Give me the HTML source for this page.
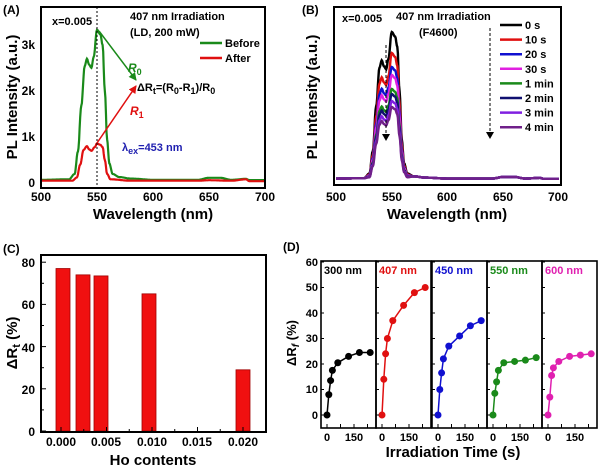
<!DOCTYPE html>
<html><head><meta charset="utf-8">
<style>
body{margin:0;background:#fff;}
svg{display:block;font-family:"Liberation Sans",Arial,sans-serif;font-weight:bold;}
</style></head><body>
<svg id="s" width="600" height="467" viewBox="0 0 600 467" xmlns="http://www.w3.org/2000/svg">
<defs>
<marker id="ag" markerWidth="8" markerHeight="8" refX="7" refY="4" orient="auto" markerUnits="userSpaceOnUse"><path d="M0,0 L8,4 L0,8z" fill="#1a8a1a"/></marker>
<marker id="ar" markerWidth="8" markerHeight="8" refX="7" refY="4" orient="auto" markerUnits="userSpaceOnUse"><path d="M0,0 L8,4 L0,8z" fill="#e01010"/></marker>
<marker id="ak" markerWidth="7" markerHeight="8" refX="6" refY="4" orient="auto" markerUnits="userSpaceOnUse"><path d="M0,0 L7,4 L0,8z" fill="#000"/></marker>
</defs>
<text x="3" y="14" font-size="12">(A)</text>
<g id="A"></g>
<rect x="41" y="7" width="224" height="181" fill="none" stroke="#000" stroke-width="2"/>
<line x1="97" y1="7" x2="97" y2="188" stroke="#000" stroke-dasharray="2,2" stroke-width="1"/>
<text x="52" y="25" font-size="11">x=0.005</text>
<text x="130" y="20" font-size="11">407 nm Irradiation</text>
<text x="130" y="36" font-size="11">(LD, 200 mW)</text>
<line x1="200" y1="43" x2="222" y2="43" stroke="#1a8a1a" stroke-width="2.5"/>
<text x="225" y="47" font-size="11">Before</text>
<line x1="200" y1="58" x2="222" y2="58" stroke="#e01010" stroke-width="2.5"/>
<text x="225" y="62" font-size="11">After</text>
<line x1="99" y1="31" x2="136" y2="80" stroke="#1a8a1a" stroke-width="1.5" marker-end="url(#ag)"/>
<line x1="97" y1="143" x2="136" y2="86" stroke="#e01010" stroke-width="1.5" marker-end="url(#ar)"/>
<text x="128" y="72" font-size="12" fill="#1a8a1a" font-style="italic">R<tspan font-size="9" dy="3" font-style="normal">0</tspan></text>
<text x="137" y="91" font-size="11">ΔR<tspan font-size="9" dy="3">t</tspan><tspan dy="-3">=(R</tspan><tspan font-size="9" dy="3">0</tspan><tspan dy="-3">-R</tspan><tspan font-size="9" dy="3">1</tspan><tspan dy="-3">)/R</tspan><tspan font-size="9" dy="3">0</tspan></text>
<text x="130" y="115" font-size="12" fill="#e01010" font-style="italic">R<tspan font-size="9" dy="3" font-style="normal">1</tspan></text>
<text x="122" y="151" font-size="11" fill="#2020b0">λ<tspan font-size="9" dy="3">ex</tspan><tspan dy="-3">=453 nm</tspan></text>
<g font-size="12" text-anchor="end"><text x="35" y="187">0</text><text x="35" y="141">1k</text><text x="35" y="95">2k</text><text x="35" y="49">3k</text></g>
<g font-size="12" text-anchor="middle"><text x="41" y="201">500</text><text x="97" y="201">550</text><text x="153" y="201">600</text><text x="209" y="201">650</text><text x="265" y="201">700</text></g>
<text x="153" y="219" font-size="15" text-anchor="middle">Wavelength (nm)</text>
<text transform="translate(17,97) rotate(-90)" font-size="15" text-anchor="middle">PL Intensity (a.u.)</text>

<text x="302" y="14" font-size="12">(B)</text>
<g id="B"></g>
<rect x="334" y="7" width="227" height="178" fill="none" stroke="#000" stroke-width="2"/>
<text x="342" y="22" font-size="11">x=0.005</text>
<text x="396" y="20" font-size="11">407 nm Irradiation</text>
<text x="419" y="36" font-size="11">(F4600)</text>
<g id="BL"></g>
<line x1="386" y1="45" x2="386" y2="140" stroke="#000" stroke-dasharray="3,2" marker-end="url(#ak)"/>
<line x1="490" y1="28" x2="490" y2="138" stroke="#000" stroke-dasharray="3,2" marker-end="url(#ak)"/>
<g font-size="12" text-anchor="middle"><text x="336" y="201">500</text><text x="392" y="201">550</text><text x="447" y="201">600</text><text x="503" y="201">650</text><text x="558" y="201">700</text></g>
<text x="447" y="219" font-size="15" text-anchor="middle">Wavelength (nm)</text>
<text transform="translate(317,97) rotate(-90)" font-size="15" text-anchor="middle">PL Intensity (a.u.)</text>

<text x="3" y="253" font-size="12">(C)</text>
<g id="C"></g>
<rect x="41" y="255" width="225" height="177" fill="none" stroke="#000" stroke-width="2"/>
<g font-size="12" text-anchor="end"><text x="35" y="436">0</text><text x="35" y="394">20</text><text x="35" y="352">40</text><text x="35" y="309">60</text><text x="35" y="267">80</text></g>
<g font-size="12" text-anchor="middle"><text x="61" y="446">0.000</text><text x="106" y="446">0.005</text><text x="152" y="446">0.010</text><text x="197" y="446">0.015</text><text x="243" y="446">0.020</text></g>
<text x="153" y="465" font-size="15" text-anchor="middle">Ho contents</text>
<text transform="translate(17,343) rotate(-90)" font-size="15" text-anchor="middle">ΔR<tspan font-size="11" dy="3">t</tspan><tspan dy="-3"> (%)</tspan></text>

<text x="283" y="251" font-size="12">(D)</text>
<g id="D"></g>
<g font-size="11" text-anchor="end"><text x="318" y="266">60</text><text x="318" y="291">50</text><text x="318" y="317">40</text><text x="318" y="342">30</text><text x="318" y="368">20</text><text x="318" y="393">10</text><text x="318" y="419">0</text></g>
<text x="453" y="457" font-size="15" text-anchor="middle">Irradiation Time (s)</text>
<text transform="translate(296,343) rotate(-90)" font-size="13" text-anchor="middle">ΔR<tspan font-size="10" dy="3" font-style="italic">f</tspan><tspan dy="-3"> (%)</tspan></text>
</svg>
<script>
const NS="http://www.w3.org/2000/svg";
function el(p,t,a){const e=document.createElementNS(NS,t);for(const k in a)e.setAttribute(k,a[k]);p.appendChild(e);return e;}
function interp(pts,l){for(let i=0;i<pts.length-1;i++){if(l>=pts[i][0]&&l<=pts[i+1][0]){const t=(l-pts[i][0])/(pts[i+1][0]-pts[i][0]);const s=(1-Math.cos(Math.PI*t))/2;return pts[i][1]+s*(pts[i+1][1]-pts[i][1]);}}return pts[pts.length-1][1];}
const shape=[[500,0.012],[525,0.015],[530,0.05],[533,0.2],[536,0.5],[539,0.76],[541,0.81],[543,0.77],[545,0.75],[547,0.82],[550,1.0],[553,0.97],[555,0.9],[557,0.6],[559,0.28],[561,0.12],[564,0.05],[570,0.03],[580,0.02],[600,0.012],[640,0.012],[650,0.025],[660,0.025],[670,0.012],[683,0.018],[686,0.01],[700,0.01]];
function path(fx,fy,pts){let d="";for(let l=500;l<=700;l+=0.5){d+=(d?"L":"M")+fx(l).toFixed(1)+","+fy(interp(pts,l)).toFixed(1);}return d;}
const A=document.getElementById("A");
const XA=l=>41+(l-500)*1.12, YA=v=>183-46*v;
const green=shape.map(p=>[p[0],p[1]*3.3+0.03]);
const red=[[500,0.05],[528,0.05],[532,0.12],[535,0.4],[538,0.72],[541,0.8],[543,0.73],[545,0.7],[548,0.78],[550,0.86],[553,0.83],[555,0.78],[557,0.5],[559,0.2],[562,0.08],[580,0.05],[640,0.05],[650,0.06],[670,0.05],[683,0.08],[686,0.04],[700,0.04]];
el(A,"path",{d:path(XA,YA,green),fill:"none",stroke:"#1a8a1a","stroke-width":2.2});
el(A,"path",{d:path(XA,YA,red),fill:"none",stroke:"#e01010","stroke-width":2.2});
const B=document.getElementById("B");
const XB=l=>336+(l-500)*1.115;
const cols=["#000","#e01010","#1010d0","#e020e0","#1a8a1a","#101070","#8020e0","#70208a"];
const H=[149,128,114,106,92,87,80,74];
const labs=["0 s","10 s","20 s","30 s","1 min","2 min","3 min","4 min"];
H.forEach((h,i)=>{el(B,"path",{d:path(XB,v=>181-v,shape.map(p=>[p[0],p[1]<0.05?p[1]*120+1:p[1]*h])),fill:"none",stroke:cols[i],"stroke-width":2.4});});
const BL=document.getElementById("BL");
labs.forEach((t,i)=>{const y=25+i*14.6;el(BL,"line",{x1:500,y1:y,x2:522,y2:y,stroke:cols[i],"stroke-width":2.5});const tx=el(BL,"text",{x:525,y:y+4,"font-size":11});tx.textContent=t;});
const C=document.getElementById("C");
[[63,77],[83,74],[101,73.5],[149,65],[243,29]].forEach(b=>{const h=b[1]*2.11;el(C,"rect",{x:b[0]-7,y:431-h,width:14,height:h,fill:"#f01010",stroke:"#a00000","stroke-width":0.8});});
for(let i=0;i<=8;i++){el(C,"line",{x1:61+i*22.75,y1:432,x2:61+i*22.75,y2:i%2?429:427,stroke:"#000"});}
for(let i=0;i<=8;i++){const y=431-i*10*2.11;el(C,"line",{x1:41,y1:y,x2:i%2?44:46,y2:y,stroke:"#000"});}
const D=document.getElementById("D");
const lefts=[321,376,432,487,542],w=55;
const dc=["#000","#e01010","#1010d0","#1a8a1a","#e020b0"];
const names=["300 nm","407 nm","450 nm","550 nm","600 nm"];
const T=[0,10,20,30,60,120,180,240];
const V=[[0,8,13.5,17.5,20.5,23,24.5,24.5],[0,14,24,30,37,43,48,50],[0,10,16.5,22,27,31,35,37],[0,8.5,13,17.5,20.5,21,21.5,22.5],[0,7,15.5,18.5,21,23,23.5,24]];
const YD=v=>415-v*2.55;
lefts.forEach((x0,i)=>{
 el(D,"rect",{x:x0,y:261,width:w,height:167,fill:"none",stroke:"#000","stroke-width":1.6});
 const XD=t=>x0+6+t*0.18;
 let d="";T.forEach((t,j)=>{d+=(j?"L":"M")+XD(t)+","+YD(V[i][j]);});
 el(D,"path",{d:d,fill:"none",stroke:dc[i],"stroke-width":1.5});
 T.forEach((t,j)=>{el(D,"circle",{cx:XD(t),cy:YD(V[i][j]),r:3.5,fill:dc[i]});});
 for(let k=0;k<=6;k++){const y=YD(k*10);el(D,"line",{x1:x0,y1:y,x2:x0+3,y2:y,stroke:"#000"});}
 [0,75,150,225].forEach(t=>el(D,"line",{x1:XD(t),y1:428,x2:XD(t),y2:424,stroke:"#000"}));
 const tx=el(D,"text",{x:x0+3,y:274,"font-size":11,fill:dc[i]});tx.textContent=names[i];
 [[0,"0"],[150,"150"]].forEach(p=>{const a=el(D,"text",{x:XD(p[0]),y:441,"font-size":11,"text-anchor":"middle"});a.textContent=p[1];});
});
</script>
</body></html>
